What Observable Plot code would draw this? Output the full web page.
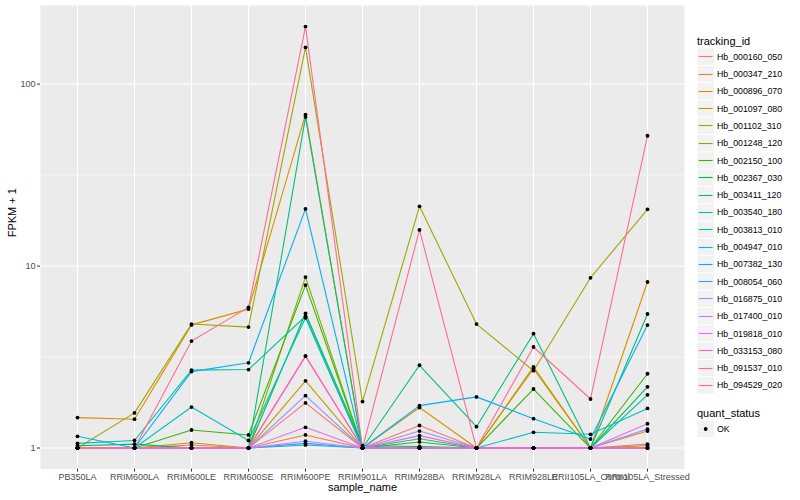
<!DOCTYPE html>
<html>
<head>
<meta charset="utf-8">
<script src="https://cdn.jsdelivr.net/npm/d3@7"></script>
<script src="https://cdn.jsdelivr.net/npm/@observablehq/plot@0.6"></script>
<style>
  body { margin: 0; background: #fff; font-family: "Liberation Sans", Arial, Helvetica, sans-serif; }
  #wrap { position: relative; width: 800px; height: 500px; overflow: hidden; }
  #legend { position: absolute; left: 0; top: 0; pointer-events: none; }
</style>
</head>
<body>
<div id="wrap"></div>
<script>
// ---------------- data ----------------
const samples = ["PB350LA", "RRIM600LA", "RRIM600LE", "RRIM600SE", "RRIM600PE", "RRIM901LA",
  "RRIM928BA", "RRIM928LA", "RRIM928LE", "RRII105LA_Control", "RRII105LA_Stressed"];

const trackingIds = ["Hb_000160_050", "Hb_000347_210", "Hb_000896_070", "Hb_001097_080", "Hb_001102_310",
  "Hb_001248_120", "Hb_002150_100", "Hb_002367_030", "Hb_003411_120", "Hb_003540_180", "Hb_003813_010",
  "Hb_004947_010", "Hb_007382_130", "Hb_008054_060", "Hb_016875_010", "Hb_017400_010", "Hb_019818_010",
  "Hb_033153_080", "Hb_091537_010", "Hb_094529_020"];

const palette = ["#F8766D", "#EA8331", "#D89000", "#C09B00", "#A3A500", "#7CAE00", "#39B600", "#00BB4E",
  "#00BF7D", "#00C1A3", "#00BFC4", "#00BAE0", "#00B0F6", "#35A2FF", "#9590FF", "#C77CFF", "#E76BF3",
  "#FA62DB", "#FF62BC", "#FF6C91"];

const quantStatus = ["OK"];

// FPKM + 1 per sample (same order as samples)
const hb_000160_050 = [1, 1, 1, 1, 1.77, 1, 1.33, 1, 1, 1, 1.05];
const hb_000347_210 = [1, 1, 1.04, 1, 1.18, 1, 1, 1, 1, 1, 1.24];
const hb_000896_070 = [1.47, 1.44, 4.75, 5.8, 68, 1, 1.67, 1, 2.79, 1, 8.17];
const hb_001097_080 = [1, 1, 1.07, 1, 2.34, 1, 1, 1, 2.73, 1, 1.03];
const hb_001102_310 = [1, 1.56, 4.8, 4.62, 159, 1.8, 21.3, 4.8, 2.66, 8.62, 20.5];
const hb_001248_120 = [1, 1, 1, 1, 8.7, 1, 1, 1, 1, 1, 1];
const hb_002150_100 = [1, 1, 1.256, 1.18, 7.86, 1, 1.08, 1, 2.11, 1, 2.56];
const hb_002367_030 = [1.03, 1.05, 1, 1, 5.5, 1.03, 1.02, 1, 1, 1, 2.17];
const hb_003411_120 = [1, 1, 1, 1, 66, 1, 2.85, 1.31, 4.25, 1, 5.45];
const hb_003540_180 = [1.06, 1.1, 2.68, 2.7, 5.3, 1, 1, 1, 1, 1, 1.96];
const hb_003813_010 = [1, 1, 1.68, 1.1, 5.2, 1, 1.125, 1, 1.22, 1.19, 1.65];
const hb_004947_010 = [1, 1, 1, 1, 1.04, 1, 1, 1, 1, 1, 1];
const hb_007382_130 = [1.16, 1, 2.63, 2.94, 20.6, 1, 1.71, 1.91, 1.45, 1.12, 4.74];
const hb_008054_060 = [1, 1, 1, 1, 1.06, 1, 1, 1, 1, 1, 1];
const hb_016875_010 = [1, 1, 1, 1, 1.94, 1, 1.24, 1, 1, 1, 1.27];
const hb_017400_010 = [1, 1, 1, 1, 1.09, 1, 1, 1, 1, 1, 1];
const hb_019818_010 = [1, 1, 1, 1, 1.3, 1, 1, 1, 1, 1, 1.36];
const hb_033153_080 = [1, 1, 1, 1, 3.2, 1, 1, 1, 1, 1, 1];
const hb_091537_010 = [1, 1, 1, 1, 3.2, 1, 1.17, 1, 1, 1, 1];
const hb_094529_020 = [1, 1, 3.87, 5.93, 207, 1, 15.8, 1, 3.59, 1.86, 52];

const seriesValues = [hb_000160_050, hb_000347_210, hb_000896_070, hb_001097_080, hb_001102_310,
  hb_001248_120, hb_002150_100, hb_002367_030, hb_003411_120, hb_003540_180, hb_003813_010,
  hb_004947_010, hb_007382_130, hb_008054_060, hb_016875_010, hb_017400_010, hb_019818_010,
  hb_033153_080, hb_091537_010, hb_094529_020];

const yMajor = [1, 10, 100];

// ---------------- table ----------------
const rows = [];
trackingIds.forEach((id, i) => {
  seriesValues[i].forEach((v, j) => rows.push({tracking_id: id, sample_name: samples[j], fpkm1: v, quant_status: quantStatus[0]}));
});

const lmin = Math.log10(d3.min(rows, d => d.fpkm1));
const lmax = Math.log10(d3.max(rows, d => d.fpkm1));
const ex = (lmax - lmin) * 0.05;
const yDomain = [Math.pow(10, lmin - ex), Math.pow(10, lmax + ex)];
const yMinor = [Math.pow(10, 0.5), Math.pow(10, 1.5)].filter(v => v > yDomain[0] && v < yDomain[1]);

const font = '"Liberation Sans", Arial, Helvetica, sans-serif';

const chart = Plot.plot({
  width: 800,
  height: 500,
  marginLeft: 40,
  marginRight: 116,
  marginTop: 5,
  marginBottom: 31.4,
  style: {fontFamily: font, fontSize: "9px", background: "transparent", overflow: "visible"},
  x: {type: "point", domain: samples, padding: 0.6, label: null},
  y: {type: "log", domain: yDomain, label: null},
  color: {domain: trackingIds, range: palette},
  marks: [
    Plot.frame({fill: "#EBEBEB", stroke: "none"}),
    Plot.ruleY(yMinor, {stroke: "#FFFFFF", strokeWidth: 0.55}),
    Plot.ruleY(yMajor, {stroke: "#FFFFFF", strokeWidth: 1.1}),
    Plot.ruleX(samples, {stroke: "#FFFFFF", strokeWidth: 1.1}),
    Plot.line(rows, {x: "sample_name", y: "fpkm1", z: "tracking_id", stroke: "tracking_id", strokeWidth: 1.1}),
    Plot.dot(rows, {x: "sample_name", y: "fpkm1", r: 1.9, fill: "#000000", stroke: "none"}),
    Plot.axisX({tickSize: 3, tickPadding: 1.5, stroke: "#333333", fill: "#4D4D4D", fontSize: 9, label: null}),
    Plot.axisY(yMajor, {tickSize: 3, tickPadding: 2, stroke: "#333333", fill: "#4D4D4D", fontSize: 9,
      tickFormat: d => String(d), label: null}),
    Plot.text(["sample_name"], {frameAnchor: "bottom", dy: 21.5, fontSize: 11, fill: "#000000"}),
    Plot.text(["FPKM + 1"], {frameAnchor: "left", dx: -28, rotate: -90, fontSize: 11, fill: "#000000"})
  ]
});
const wrap = document.getElementById("wrap");
wrap.appendChild(chart);

// ---------------- legend (overlay in the right margin) ----------------
const lg = d3.select(wrap).append("svg")
  .attr("id", "legend")
  .attr("width", 800).attr("height", 500)
  .style("font-family", font);

const keyLeft = 697, keySize = 17.3, textLeft = 717, step = 17.3, firstCenter = 56.7;

lg.append("text").attr("x", keyLeft).attr("y", 40.7).attr("dy", "0.35em")
  .attr("font-size", 11).attr("fill", "#000").text("tracking_id");

const entries = lg.append("g").selectAll("g").data(trackingIds).join("g");
entries.append("rect").attr("x", keyLeft).attr("y", (d, i) => firstCenter + step * i - keySize / 2)
  .attr("width", keySize).attr("height", keySize)
  .attr("fill", "#F2F2F2").attr("stroke", "#FFFFFF").attr("stroke-width", 0.8);
entries.append("line").attr("x1", keyLeft + 1.7).attr("x2", keyLeft + keySize - 1.7)
  .attr("y1", (d, i) => Math.floor(firstCenter + step * i) + 0.5)
  .attr("y2", (d, i) => Math.floor(firstCenter + step * i) + 0.5)
  .attr("stroke", (d, i) => palette[i]).attr("stroke-width", 1.1);
entries.append("text").attr("x", textLeft).attr("y", (d, i) => firstCenter + step * i).attr("dy", "0.35em")
  .attr("font-size", 8.8).attr("fill", "#000").text(d => d);

lg.append("text").attr("x", keyLeft).attr("y", 412.7).attr("dy", "0.35em")
  .attr("font-size", 11).attr("fill", "#000").text("quant_status");

const qEntries = lg.append("g").selectAll("g").data(quantStatus).join("g")
  .attr("transform", (d, i) => `translate(0,${429 + step * i})`);
qEntries.append("rect").attr("x", keyLeft).attr("y", -keySize / 2).attr("width", keySize).attr("height", keySize)
  .attr("fill", "#F2F2F2").attr("stroke", "#FFFFFF").attr("stroke-width", 0.8);
qEntries.append("circle").attr("cx", keyLeft + keySize / 2).attr("cy", 0).attr("r", 1.9).attr("fill", "#000");
qEntries.append("text").attr("x", textLeft).attr("y", 0).attr("dy", "0.35em")
  .attr("font-size", 8.8).attr("fill", "#000").text(d => d);
</script>
</body>
</html>
